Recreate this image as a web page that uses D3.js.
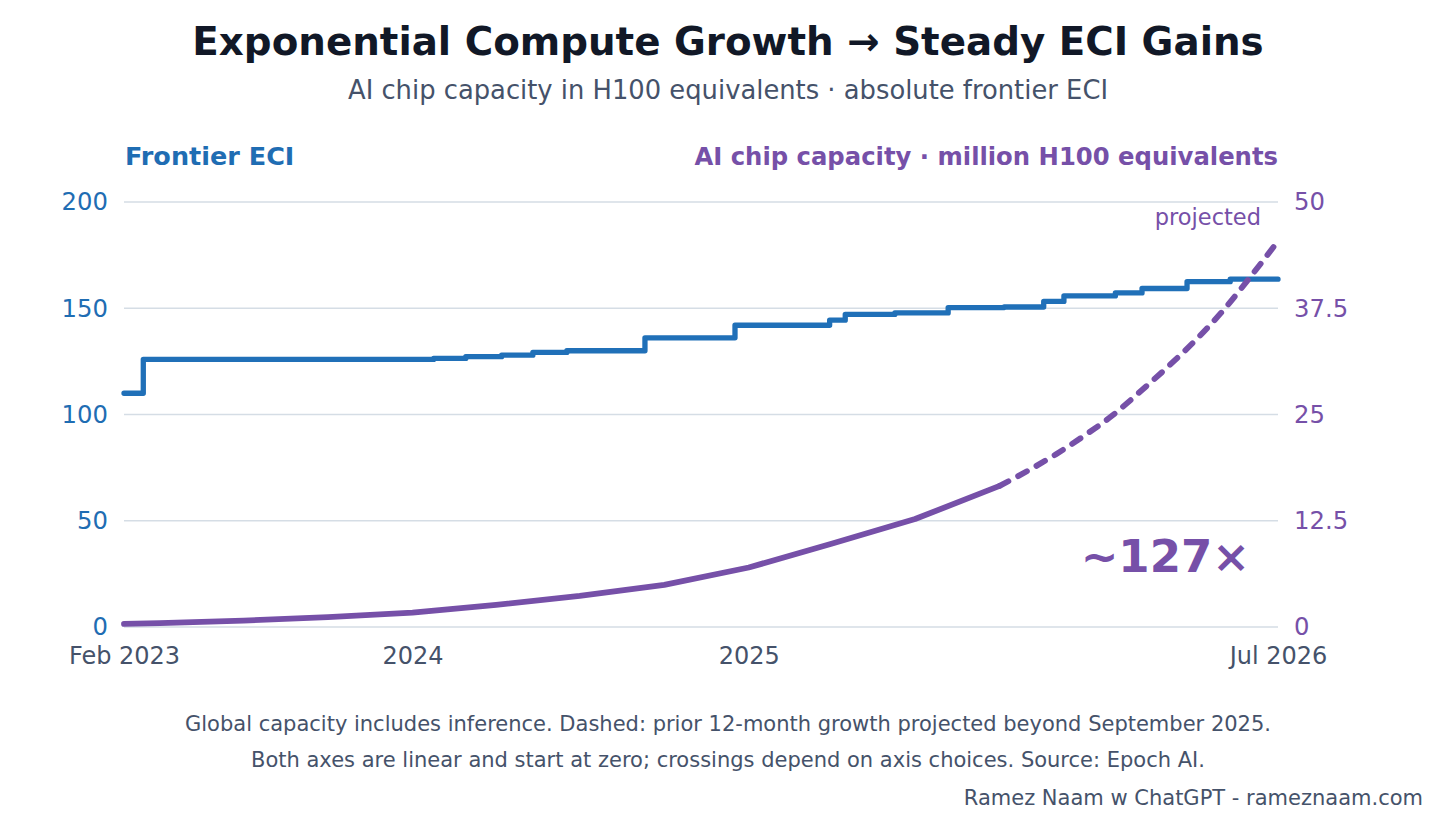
<!DOCTYPE html>
<html>
<head>
<meta charset="utf-8">
<script src="https://cdn.jsdelivr.net/npm/d3@7"></script>
<style>
  body { margin: 0; background: #fff; }
  svg { display: block; font-family: "DejaVu Sans", sans-serif; }
  .grid line { stroke: #d5dde5; stroke-width: 1.3; }
</style>
</head>
<body>
<svg id="chart" width="1456" height="819"></svg>
<script>
// Frontier ECI step series (date of each change, value)
const eciDates = ["2023-02-21", "2023-03-14", "2024-01-24", "2024-02-28", "2024-04-07", "2024-05-11",
    "2024-06-17", "2024-09-10", "2024-12-17", "2025-03-30", "2025-04-16", "2025-06-09", "2025-08-06",
    "2025-10-06", "2025-11-18", "2025-12-10", "2026-02-04", "2026-03-05", "2026-04-23", "2026-06-09",
    "2026-07-31"];
const eciValues = [110, 125.9, 126.4, 127.2, 127.9, 129.2, 130, 136.1, 142, 144.4, 147.1, 147.8, 150.3,
    150.6, 153.2, 155.8, 157.2, 159.3, 162.5, 163.7, 163.7];

// AI chip capacity, million H100 equivalents (actual, quarterly)
const capDates = ["2023-02-21", "2023-04-01", "2023-07-01", "2023-10-01", "2024-01-01", "2024-04-01",
    "2024-07-01", "2024-10-01", "2025-01-01", "2025-04-01", "2025-07-01", "2025-10-01"];
const capValues = [0.36, 0.45, 0.75, 1.15, 1.68, 2.6, 3.65, 4.95, 7.0, 9.8, 12.7, 16.6];

// projected capacity (dashed)
const projDates = ["2025-10-01", "2025-11-01", "2025-12-01", "2026-01-01", "2026-02-01", "2026-03-01",
    "2026-04-01", "2026-05-01", "2026-06-01", "2026-07-01", "2026-07-31"];
const projValues = [16.6, 18.4, 20.3, 22.5, 24.9, 27.5, 30.5, 33.6, 37.2, 41.2, 45.4];

const leftTicks = [0, 50, 100, 150, 200];
const rightTicks = [0, 12.5, 25, 37.5, 50];
const xTickDates = ["2023-02-21", "2024-01-01", "2025-01-01", "2026-07-31"];
const xTickLabels = ["Feb 2023", "2024", "2025", "Jul 2026"];

const BLUE = "#2070b8", BLUE_TXT = "#1f6db3", PURPLE = "#7650a8", SLATE = "#45526a", DARK = "#111827";

const parse = d3.timeParse("%Y-%m-%d");
const svg = d3.select("#chart");

const plotLeft = 124, plotRight = 1278, plotTop = 202, plotBottom = 627;

const x = d3.scaleTime()
    .domain([parse(xTickDates[0]), parse(xTickDates[xTickDates.length - 1])])
    .range([plotLeft, plotRight]);
const yL = d3.scaleLinear().domain([0, 200]).range([plotBottom, plotTop]);
const yR = d3.scaleLinear().domain([0, 50]).range([plotBottom, plotTop]);

// Titles
svg.append("text").attr("x", 728).attr("y", 55).attr("text-anchor", "middle")
    .attr("font-size", 38.8).attr("font-weight", "bold").attr("fill", DARK)
    .text("Exponential Compute Growth \u2192 Steady ECI Gains");
svg.append("text").attr("x", 728).attr("y", 99).attr("text-anchor", "middle")
    .attr("font-size", 25.8).attr("fill", SLATE)
    .text("AI chip capacity in H100 equivalents \u00b7 absolute frontier ECI");

svg.append("text").attr("x", plotLeft + 1).attr("y", 165)
    .attr("font-size", 25.5).attr("font-weight", "bold").attr("fill", BLUE_TXT)
    .text("Frontier ECI");
svg.append("text").attr("x", plotRight).attr("y", 165).attr("text-anchor", "end")
    .attr("font-size", 24.3).attr("font-weight", "bold").attr("fill", PURPLE)
    .text("AI chip capacity \u00b7 million H100 equivalents");

// Gridlines
svg.append("g").attr("class", "grid")
    .selectAll("line").data(leftTicks).enter().append("line")
    .attr("x1", plotLeft).attr("x2", plotRight)
    .attr("y1", d => yL(d)).attr("y2", d => yL(d));

// Left axis labels
const axL = svg.append("g").attr("transform", `translate(${plotLeft},0)`)
    .call(d3.axisLeft(yL).tickValues(leftTicks).tickSize(0).tickPadding(16));
axL.select(".domain").remove();
axL.selectAll("text").attr("font-size", 24.3).attr("fill", BLUE_TXT).attr("font-family", "DejaVu Sans");

// Right axis labels
const axR = svg.append("g").attr("transform", `translate(${plotRight},0)`)
    .call(d3.axisRight(yR).tickValues(rightTicks).tickSize(0).tickPadding(16).tickFormat(d => d));
axR.select(".domain").remove();
axR.selectAll("text").attr("font-size", 24.3).attr("fill", PURPLE).attr("font-family", "DejaVu Sans");

// X axis labels
const axX = svg.append("g").attr("transform", `translate(0,${plotBottom})`)
    .call(d3.axisBottom(x).tickValues(xTickDates.map(parse)).tickSize(0).tickPadding(20)
        .tickFormat((d, i) => xTickLabels[i]));
axX.select(".domain").remove();
axX.selectAll("text").attr("font-size", 24).attr("fill", SLATE).attr("font-family", "DejaVu Sans");

// ECI step line
const eciData = eciDates.map((d, i) => ({ date: parse(d), v: eciValues[i] }));
svg.append("path").datum(eciData)
    .attr("fill", "none").attr("stroke", BLUE).attr("stroke-width", 5.3)
    .attr("stroke-linejoin", "round").attr("stroke-linecap", "round")
    .attr("d", d3.line().x(d => x(d.date)).y(d => yL(d.v)).curve(d3.curveStepAfter));

// Capacity lines
const capData = capDates.map((d, i) => ({ date: parse(d), v: capValues[i] }));
const projData = projDates.map((d, i) => ({ date: parse(d), v: projValues[i] }));
const capLine = d3.line().x(d => x(d.date)).y(d => yR(d.v));

svg.append("path").datum(capData)
    .attr("fill", "none").attr("stroke", PURPLE).attr("stroke-width", 5.8)
    .attr("stroke-linejoin", "round").attr("stroke-linecap", "round")
    .attr("d", capLine);
svg.append("path").datum(projData)
    .attr("fill", "none").attr("stroke", PURPLE).attr("stroke-width", 5.8)
    .attr("stroke-dasharray", "10,11").attr("stroke-linecap", "round")
    .attr("d", capLine.curve(d3.curveMonotoneX));

// Annotations
svg.append("text").attr("x", 1261).attr("y", 225).attr("text-anchor", "end")
    .attr("font-size", 22.5).attr("fill", PURPLE).text("projected");
svg.append("text").attr("x", 1250).attr("y", 572).attr("text-anchor", "end")
    .attr("font-size", 45).attr("font-weight", "bold").attr("fill", PURPLE).text("~127\u00d7");

// Footer
svg.append("text").attr("x", 728).attr("y", 731).attr("text-anchor", "middle")
    .attr("font-size", 21).attr("fill", SLATE)
    .text("Global capacity includes inference. Dashed: prior 12-month growth projected beyond September 2025.");
svg.append("text").attr("x", 728).attr("y", 767).attr("text-anchor", "middle")
    .attr("font-size", 21).attr("fill", SLATE)
    .text("Both axes are linear and start at zero; crossings depend on axis choices. Source: Epoch AI.");
svg.append("text").attr("x", 1423).attr("y", 805).attr("text-anchor", "end")
    .attr("font-size", 21).attr("fill", SLATE)
    .text("Ramez Naam w ChatGPT - rameznaam.com");
</script>
</body>
</html>
